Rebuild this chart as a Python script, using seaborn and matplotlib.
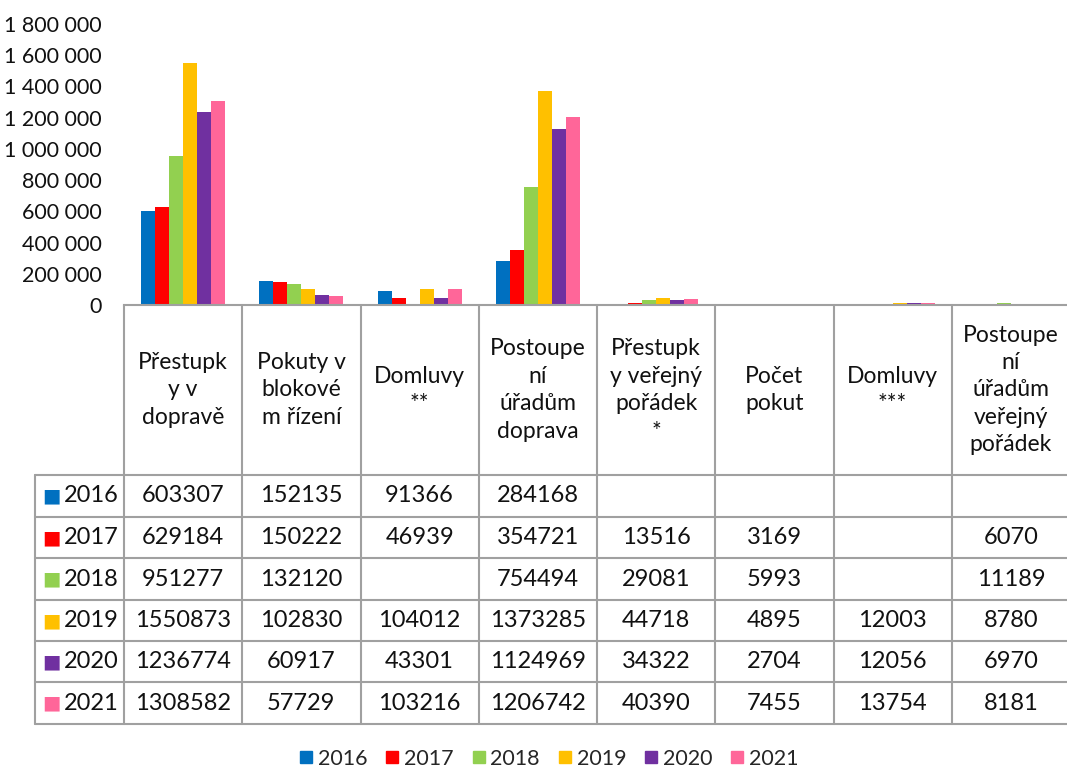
import numpy as np
import pandas as pd

import matplotlib.pyplot as plt
import matplotlib.transforms as mtransforms
from matplotlib.lines import Line2D
from matplotlib.ticker import FuncFormatter
import seaborn as sns

sns.set_theme(style="white")
plt.rcParams["font.family"] = ["Lato", "DejaVu Sans"]

categories = ["Přestupk\ny v\ndopravě", "Pokuty v\nblokové\nm řízení", "Domluvy\n**",
              "Postoupe\nní\núřadům\ndoprava", "Přestupk\ny veřejný\npořádek\n*",
              "Počet\npokut", "Domluvy\n***", "Postoupe\nní\núřadům\nveřejný\npořádek"]
years = ["2016", "2017", "2018", "2019", "2020", "2021"]
nan = np.nan
v2016 = [603307, 152135, 91366, 284168, nan, nan, nan, nan]
v2017 = [629184, 150222, 46939, 354721, 13516, 3169, nan, 6070]
v2018 = [951277, 132120, nan, 754494, 29081, 5993, nan, 11189]
v2019 = [1550873, 102830, 104012, 1373285, 44718, 4895, 12003, 8780]
v2020 = [1236774, 60917, 43301, 1124969, 34322, 2704, 12056, 6970]
v2021 = [1308582, 57729, 103216, 1206742, 40390, 7455, 13754, 8181]
colors = ["#0070C0", "#FF0000", "#92D050", "#FFC000", "#7030A0", "#FF6699"]

series = [v2016, v2017, v2018, v2019, v2020, v2021]
df = pd.DataFrame([(c, y, v) for y, vals in zip(years, series)
                   for c, v in zip(categories, vals)],
                  columns=["kategorie", "rok", "hodnota"]).dropna()

W, H = 1067, 770
fig = plt.figure(figsize=(W / 100, H / 100), dpi=100)
ax = fig.add_axes([124 / W, (H - 305) / H, (1070 - 124) / W, (305 - 24) / H])

sns.barplot(data=df, x="kategorie", y="hodnota", hue="rok", order=categories,
            hue_order=years, palette=colors, saturation=1, width=0.71, linewidth=0,
            errorbar=None, legend=False, ax=ax)

ax.set_ylim(0, 1800000)
ax.set_xlim(-0.5, len(categories) - 0.5)
ax.set_yticks(np.arange(0, 1800001, 200000))
ax.yaxis.set_major_formatter(FuncFormatter(lambda v, p: f"{int(v):,}".replace(",", " ")))
ax.tick_params(axis="y", labelsize=15.5, pad=16, length=0, colors="#111111")
ax.set_xticks([])
ax.set_xlabel("")
ax.set_ylabel("")
for s in ["top", "right", "left"]:
    ax.spines[s].set_visible(False)
ax.spines["bottom"].set_color("#A0A0A0")
ax.spines["bottom"].set_linewidth(1.5)

# data table under the axis
tr = mtransforms.blended_transform_factory(ax.transData, fig.transFigure)
fy = lambda py: 1 - py / H
fx = lambda px: px / W
grid = dict(color="#A0A0A0", lw=1.5, clip_on=False)
row_edges = [475, 517, 558, 600, 641, 682, 724]
x_edges = np.arange(len(categories) + 1) - 0.5

for xe in x_edges:
    fig.add_artist(Line2D([xe, xe], [fy(305), fy(724)], transform=tr, **grid))
fig.add_artist(Line2D([fx(35), fx(35)], [fy(475), fy(724)], transform=fig.transFigure, **grid))
for ry in row_edges:
    fig.add_artist(Line2D([fx(35), fx(1070)], [fy(ry), fy(ry)],
                          transform=fig.transFigure, **grid))

for i, cat in enumerate(categories):
    fig.text(i, fy(390), cat, transform=tr, ha="center", va="center",
             fontsize=16.5, linespacing=1.38, color="#111111")

for r, (y, vals, col) in enumerate(zip(years, series, colors)):
    yc = fy((row_edges[r] + row_edges[r + 1]) / 2)
    fig.text(fx(51), yc, "■", color=col, ha="center", va="center", fontsize=14,
             family="DejaVu Sans")
    fig.text(fx(64), yc, y, ha="left", va="center", fontsize=17, color="#111111")
    for i, v in enumerate(vals):
        if not np.isnan(v):
            fig.text(i, yc, f"{int(v)}", transform=tr, ha="center", va="center",
                     fontsize=17, color="#111111")

handles = [Line2D([], [], marker="s", linestyle="", markersize=9, color=c) for c in colors]
fig.legend(handles, years, loc="center", bbox_to_anchor=(fx(548), fy(759)), ncol=6,
           frameon=False, fontsize=15.5, handletextpad=0.15, columnspacing=0.75,
           handlelength=0.8)

fig.savefig("out.png", dpi=100)
